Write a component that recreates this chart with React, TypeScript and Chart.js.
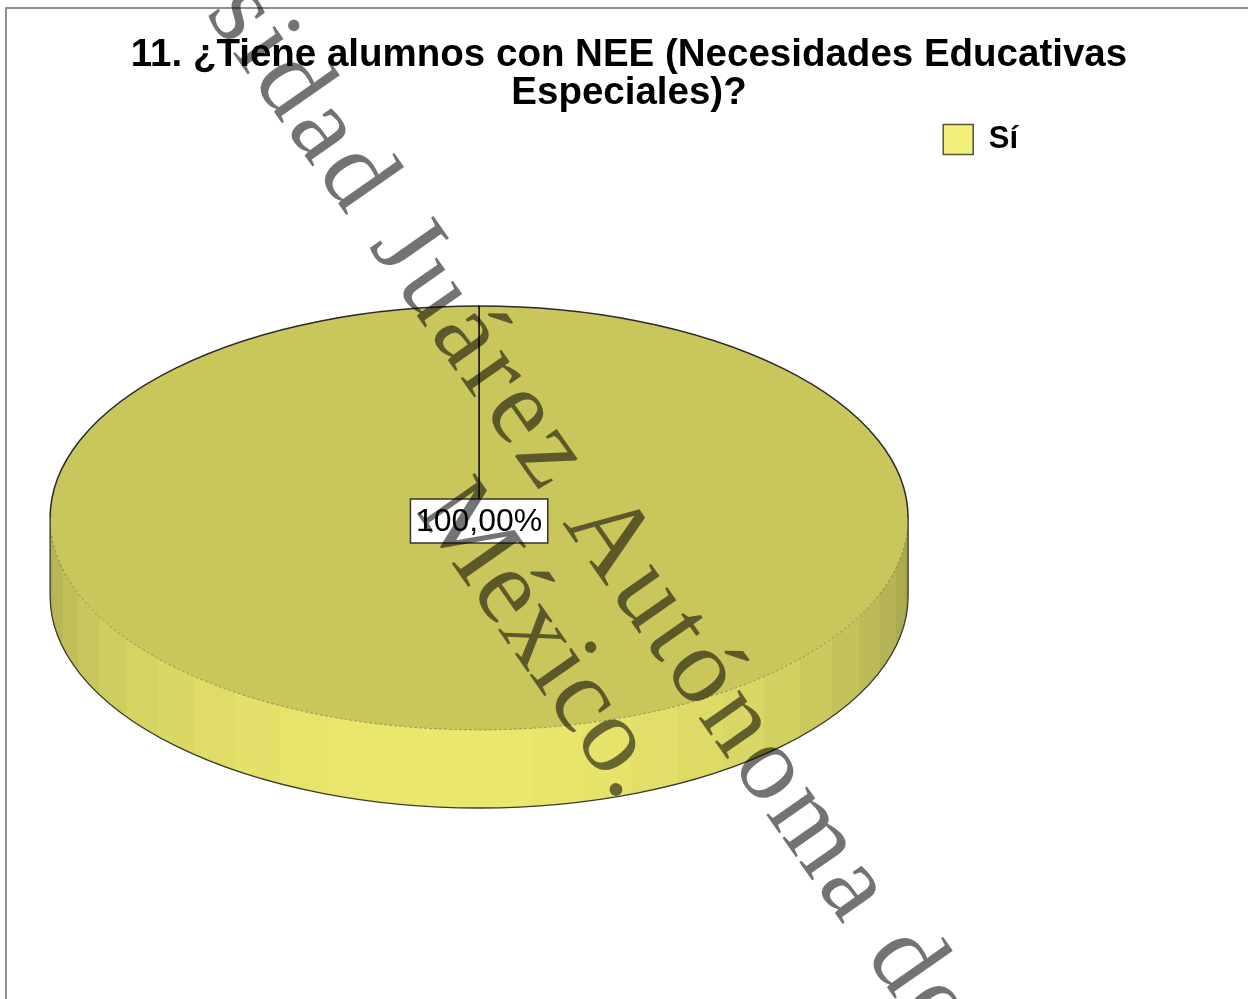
import { useEffect, useRef } from "react";
import { Chart, registerables } from "chart.js";

Chart.register(...registerables);

// ---- data ----
const titleLines = ["11. ¿Tiene alumnos con NEE (Necesidades Educativas", "Especiales)?"];
const categories = ["Sí"];
const percentages = [100];
const watermarkLines = ["Universidad Juárez Autónoma de Tabasco", "México."];

// ---- styles ----
const TOP_COLOR = "#C9C65B";
const LEGEND_COLOR = "#F2F07A";
const SIDE_BASE = [225, 223, 104];
const TILT = 0.494; // vertical squash of the pie (3D view)
const DEPTH = 0.182; // side height relative to radius
const PEAK = 1.66; // angle of brightest side facet
const SANS = '"Liberation Sans", Arial, Helvetica, sans-serif';
const SERIF = '"Liberation Serif", "Times New Roman", serif';

const fmtPct = (v: number) => v.toFixed(2).replace(".", ",") + "%";

const pie3d = {
  id: "pie3d",
  beforeDatasetsDraw(chart: any) {
    const arc = chart.getDatasetMeta(0).data[0];
    const ctx = chart.ctx;
    ctx.save();
    if (!arc) return;
    const { x, y, outerRadius: R } = arc.getProps(["x", "y", "outerRadius"], true);
    const ry = R * TILT;
    const D = R * DEPTH;
    // side band
    const grad = ctx.createLinearGradient(x - R, 0, x + R, 0);
    const N = 26;
    for (let i = 0; i < N; i++) {
      const a0 = Math.PI - (i / N) * Math.PI;
      const a1 = Math.PI - ((i + 1) / N) * Math.PI;
      const am = (a0 + a1) / 2;
      const f = 0.74 + 0.3 * Math.cos(am - PEAK);
      const c = `rgb(${Math.min(255, Math.round(SIDE_BASE[0] * f))},${Math.min(255, Math.round(SIDE_BASE[1] * f))},${Math.min(255, Math.round(SIDE_BASE[2] * f))})`;
      const t0 = (Math.cos(a0) + 1) / 2;
      const t1 = (Math.cos(a1) + 1) / 2;
      grad.addColorStop(Math.max(0, Math.min(1, t0)), c);
      grad.addColorStop(Math.max(0, Math.min(1, t1)), c);
    }
    ctx.beginPath();
    ctx.moveTo(x + R, y);
    ctx.lineTo(x + R, y + D);
    ctx.ellipse(x, y + D, R, ry, 0, 0, Math.PI, false);
    ctx.lineTo(x - R, y);
    ctx.ellipse(x, y, R, ry, 0, Math.PI, 0, true);
    ctx.closePath();
    ctx.fillStyle = grad;
    ctx.fill();
    // squash the top face drawn by the library
    ctx.translate(0, y);
    ctx.scale(1, TILT);
    ctx.translate(0, -y);
  },
  afterDatasetsDraw(chart: any) {
    const ctx = chart.ctx;
    ctx.restore();
    const arc = chart.getDatasetMeta(0).data[0];
    if (!arc) return;
    const { x, y, outerRadius: R, startAngle } = arc.getProps(["x", "y", "outerRadius", "startAngle"], true);
    const ry = R * TILT;
    const D = R * DEPTH;
    ctx.save();
    // front top edge (subtle)
    ctx.beginPath();
    ctx.ellipse(x, y, R, ry, 0, 0, Math.PI, false);
    ctx.strokeStyle = "rgba(70,70,20,0.45)";
    ctx.lineWidth = 1;
    ctx.setLineDash([3, 2]);
    ctx.stroke();
    ctx.setLineDash([]);
    // back top edge
    ctx.beginPath();
    ctx.ellipse(x, y, R, ry, 0, Math.PI, 2 * Math.PI, false);
    ctx.strokeStyle = "#2a2a2a";
    ctx.lineWidth = 1.5;
    ctx.stroke();
    // sides and bottom
    ctx.beginPath();
    ctx.moveTo(x + R, y);
    ctx.lineTo(x + R, y + D);
    ctx.ellipse(x, y + D, R, ry, 0, 0, Math.PI, false);
    ctx.lineTo(x - R, y);
    ctx.strokeStyle = "#3a3a2a";
    ctx.lineWidth = 1.3;
    ctx.stroke();

    // label with leader line
    const text = fmtPct(percentages[0]);
    ctx.font = `32px ${SANS}`;
    const tw = ctx.measureText(text).width;
    const bw = tw + 11;
    const bh = 44;
    const cy = y + 3;
    const bx = x - bw / 2;
    const by = cy - bh / 2;
    const sx = x + R * Math.cos(startAngle);
    const sy = y + ry * Math.sin(startAngle);
    ctx.beginPath();
    ctx.moveTo(sx, sy);
    ctx.lineTo(x, by);
    ctx.strokeStyle = "#000";
    ctx.lineWidth = 1.5;
    ctx.stroke();
    ctx.fillStyle = "#fff";
    ctx.fillRect(bx, by, bw, bh);
    ctx.strokeStyle = "#333";
    ctx.lineWidth = 1.5;
    ctx.strokeRect(bx, by, bw, bh);
    ctx.fillStyle = "#000";
    ctx.textAlign = "center";
    ctx.textBaseline = "middle";
    ctx.fillText(text, x, cy + 1);
    ctx.restore();
  },
};

const watermark = {
  id: "watermark",
  afterDraw(chart: any) {
    const ctx = chart.ctx;
    const ang = (55 * Math.PI) / 180;
    const dx = Math.cos(ang);
    const dy = Math.sin(ang);
    ctx.save();
    ctx.font = `108px ${SERIF}`;
    ctx.fillStyle = "rgba(0,0,0,0.55)";
    ctx.textBaseline = "alphabetic";
    ctx.textAlign = "left";
    // line 1: anchored at the start of "Autónoma", slightly wider tracking
    (ctx as any).letterSpacing = "5px";
    const pre = ctx.measureText("Universidad Juárez ").width;
    const ax = 562 - pre * dx;
    const ay = 523 - pre * dy;
    ctx.save();
    ctx.translate(ax, ay);
    ctx.rotate(ang);
    ctx.fillText(watermarkLines[0], 0, 0);
    ctx.restore();
    (ctx as any).letterSpacing = "0px";
    ctx.save();
    ctx.translate(415, 511);
    ctx.rotate(ang);
    ctx.fillText(watermarkLines[1], 0, 0);
    ctx.restore();
    ctx.restore();
  },
};

export default function App() {
  const ref = useRef<HTMLCanvasElement | null>(null);
  useEffect(() => {
    if (!ref.current) return;
    const chart = new Chart(ref.current, {
      type: "pie",
      data: {
        labels: categories,
        datasets: [
          {
            data: percentages,
            backgroundColor: TOP_COLOR,
            borderWidth: 0,
            hoverBorderWidth: 0,
            hoverOffset: 0,
          } as any,
        ],
      },
      options: {
        responsive: false,
        animation: false,
        events: [],
        layout: { padding: { left: 50, top: 89, bottom: 52, right: 220 } },
        plugins: {
          title: { display: false },
          tooltip: { enabled: false },
          legend: {
            display: true,
            position: "right",
            align: "start",
            labels: {
              boxWidth: 30,
              boxHeight: 30,
              padding: 35,
              color: "#000",
              font: { family: SANS, size: 31, weight: "bold" },
              generateLabels: (c: any) =>
                (c.data.labels as string[]).map((l, i) => ({
                  text: l,
                  fillStyle: LEGEND_COLOR,
                  strokeStyle: "#55553a",
                  lineWidth: 1.5,
                  hidden: false,
                  index: i,
                  fontColor: "#000",
                })),
            },
          },
        },
      },
      plugins: [pie3d, watermark],
    });
    return () => chart.destroy();
  }, []);

  return (
    <div style={{ position: "absolute", left: 0, top: 0, width: 1248, height: 999, overflow: "hidden", background: "#fff" }}>
      <div
        style={{
          position: "absolute",
          left: 5,
          top: 7,
          width: 1300,
          height: 1100,
          borderLeft: "2px solid #8f8f8f",
          borderTop: "2px solid #8f8f8f",
        }}
      />
      <canvas ref={ref} width={1248} height={999} style={{ position: "absolute", left: 0, top: 0, display: "block" }} />
      <div
        style={{
          position: "absolute",
          left: 0,
          top: 34,
          width: 1258,
          textAlign: "center",
          font: `bold 38.5px ${SANS}`,
          lineHeight: "38px",
          color: "#000",
          whiteSpace: "nowrap",
        }}
      >
        {titleLines.map((t, i) => (
          <div key={i}>{t}</div>
        ))}
      </div>
    </div>
  );
}
